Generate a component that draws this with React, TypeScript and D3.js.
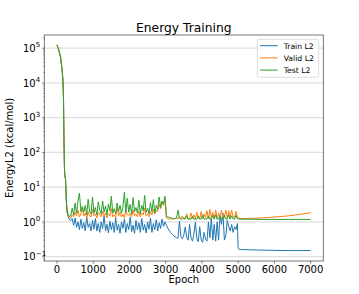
import * as d3 from 'd3';

// sampled epochs: start of the run, two noisy phases, quiet tail
const initEpochs = [0, 50, 100, 140, 165, 180, 192, 205, 215, 235, 245, 260, 278, 310, 345];
const phaseAEpochs = d3.range(380, 3000, 40); // 66 samples
const phaseBEpochs = d3.range(3020, 5000, 40); // 50 samples
const tailEpochs = [5000, 5020, 5100, 5300, 5600, 6000, 6400, 6800, 7000];

const trainInit = [123000, 88000, 53000, 24000, 11500, 3400, 290, 38, 21, 17, 9.5, 3.6, 1.9, 1.4, 1.15];
const validInit = [124000, 89000, 54000, 24500, 11800, 3450, 295, 39, 21.5, 17.5, 9.8, 3.8, 2.0, 1.5, 1.35];
const testInit = [125000, 90000, 55000, 25000, 12000, 3500, 300, 40, 22, 18, 10, 4.0, 2.2, 1.6, 1.45];

const trainA = [
  1.1, 1.25, 0.8, 1.3, 0.7, 1.0, 0.6, 1.2, 0.65, 0.95,
  0.55, 1.4, 0.7, 0.9, 0.55, 1.1, 0.62, 1.25, 0.55, 0.9,
  0.5, 1.0, 0.65, 1.5, 0.55, 0.85, 0.48, 1.05, 0.6, 0.95,
  0.5, 1.3, 0.58, 0.85, 0.47, 1.0, 0.65, 1.2, 0.5, 0.9,
  0.6, 1.4, 0.52, 0.8, 0.47, 1.1, 0.6, 0.95, 0.5, 1.25,
  0.58, 0.85, 0.48, 1.0, 0.62, 1.3, 0.5, 0.9, 0.6, 1.15,
  0.55, 0.95, 0.65, 1.2, 0.75, 1.0,
];
const validA = [
  1.3, 1.6, 1.4, 1.9, 1.5, 2.2, 1.4, 1.7, 2.5, 1.5,
  1.8, 1.3, 2.0, 1.5, 1.4, 2.3, 1.5, 1.7, 1.3, 1.9,
  1.6, 1.4, 2.0, 1.5, 1.8, 1.3, 1.7, 1.5, 2.4, 1.4,
  1.6, 1.3, 2.6, 1.5, 1.9, 1.4, 1.7, 1.3, 2.1, 1.6,
  1.5, 1.8, 1.4, 2.2, 1.5, 1.7, 1.4, 2.0, 1.4, 1.8,
  1.6, 2.5, 1.5, 1.7, 1.4, 2.0, 1.6, 2.3, 1.7, 2.2,
  2.0, 3.2, 2.4, 3.8, 3.0, 4.8,
];
const testA = [
  1.5, 2.5, 1.6, 3.5, 1.8, 4.0, 6.8, 2.0, 2.8, 1.9,
  3.0, 1.6, 4.5, 2.0, 1.7, 5.2, 1.8, 2.6, 1.6, 3.8,
  2.2, 1.7, 4.0, 1.9, 2.9, 1.6, 3.3, 2.1, 5.5, 1.8,
  2.4, 1.7, 3.5, 2.0, 3.0, 1.8, 2.7, 7.2, 1.9, 4.8,
  1.9, 3.2, 1.7, 5.0, 2.0, 2.6, 1.8, 4.2, 1.7, 3.0,
  2.1, 5.8, 1.9, 2.5, 1.7, 3.6, 2.0, 4.4, 1.8, 3.0,
  2.3, 5.2, 2.6, 4.0, 3.2, 5.5,
];

const trainB = [
  0.8, 0.66, 0.56, 0.49, 0.44, 0.4, 0.37, 0.35, 0.34, 1.05,
  0.38, 0.33, 0.42, 0.72, 0.36, 0.3, 0.85, 0.34, 0.28, 0.45,
  1.0, 0.33, 0.27, 0.73, 0.3, 0.26, 0.5, 0.32, 0.28, 1.0,
  0.35, 1.3, 0.3, 0.85, 0.28, 1.0, 0.3, 1.6, 0.85, 1.8,
  0.3, 0.4, 1.1, 0.73, 0.55, 0.85, 0.5, 0.73, 0.6, 0.9,
];
const validB = [
  1.3, 1.25, 1.22, 1.25, 1.2, 1.22, 1.25, 1.3, 1.22, 1.4,
  1.25, 1.5, 1.22, 1.3, 1.7, 1.22, 1.25, 1.8, 1.25, 1.6,
  1.25, 1.9, 1.3, 1.25, 2.0, 1.25, 1.7, 1.3, 2.1, 1.25,
  2.3, 1.3, 1.9, 1.25, 2.2, 1.3, 1.8, 1.25, 2.2, 1.3,
  1.35, 2.2, 1.3, 2.1, 1.35, 2.2, 1.4, 1.35, 2.0, 1.4,
];
const testB = [
  1.45, 1.4, 1.35, 1.3, 1.28, 1.25, 1.25, 1.3, 2.2, 1.3,
  1.2, 1.22, 1.3, 1.2, 1.5, 1.2, 1.22, 1.2, 1.45, 1.2,
  1.22, 1.2, 1.5, 1.2, 1.22, 1.55, 1.2, 1.2, 1.22, 1.5,
  1.2, 1.22, 1.55, 1.2, 1.6, 1.2, 1.22, 1.5, 1.2, 1.22,
  1.55, 1.2, 1.22, 1.6, 1.2, 1.5, 1.22, 1.2, 1.55, 1.22,
];

const trainTail = [0.17, 0.165, 0.16, 0.158, 0.155, 0.152, 0.15, 0.15, 0.15];
const validTail = [1.4, 1.27, 1.25, 1.26, 1.3, 1.38, 1.5, 1.7, 1.85];
const testTail = [1.25, 1.2, 1.2, 1.2, 1.19, 1.18, 1.18, 1.18, 1.18];

const xTicks = [0, 1000, 2000, 3000, 4000, 5000, 6000, 7000];
const yExponents = [-1, 0, 1, 2, 3, 4, 5];

const epochs = [...initEpochs, ...phaseAEpochs, ...phaseBEpochs, ...tailEpochs];
const series = [
  { name: 'Train L2', color: '#1f77b4', values: [...trainInit, ...trainA, ...trainB, ...trainTail] },
  { name: 'Valid L2', color: '#ff7f0e', values: [...validInit, ...validA, ...validB, ...validTail] },
  { name: 'Test L2', color: '#2ca02c', values: [...testInit, ...testA, ...testB, ...testTail] },
];

const W = 359, H = 294;
const left = 44.3, right = 323.3, top = 35, bottom = 261;
const font = 'DejaVu Sans, sans-serif';

export default function App() {
  const x = d3.scaleLinear().domain([-350, 7350]).range([left, right]);
  const y = d3.scaleLog().domain([10 ** -1.124, 10 ** 5.38]).range([bottom, top]);

  const line = d3.line<number>()
    .x((_, i) => x(epochs[i]))
    .y(d => y(d));

  // minor ticks 2..9 x 10^k inside the domain
  const minor: number[] = [];
  for (let k = -2; k <= 5; k++) {
    for (let m = 2; m <= 9; m++) {
      const v = m * 10 ** k;
      if (v > y.domain()[0] && v < y.domain()[1]) minor.push(v);
    }
  }

  return (
    <svg width={W} height={H} style={{ position: 'absolute', left: 0, top: 0, background: '#fff' }} fontFamily={font}>
      <defs>
        <clipPath id="plot"><rect x={left} y={top} width={right - left} height={bottom - top} /></clipPath>
      </defs>

      {/* grid */}
      {yExponents.map(e => (
        <line key={'g' + e} x1={left} x2={right} y1={y(10 ** e)} y2={y(10 ** e)} stroke="#e0e0e0" strokeWidth={1.2} />
      ))}

      {/* lines */}
      <g clipPath="url(#plot)">
        {series.map(s => (
          <path key={s.name} d={line(s.values) || ''} fill="none" stroke={s.color} strokeWidth={1} strokeLinejoin="round" />
        ))}
      </g>

      {/* frame */}
      <rect x={left} y={top} width={right - left} height={bottom - top} fill="none" stroke="#555" strokeWidth={0.8} />

      {/* x axis */}
      {xTicks.map(t => (
        <g key={'x' + t}>
          <line x1={x(t)} x2={x(t)} y1={bottom} y2={bottom + 2.5} stroke="#555" strokeWidth={0.8} />
          <text x={x(t)} y={272.5} fontSize={10} textAnchor="middle" fill="#000">{t}</text>
        </g>
      ))}
      <text x={(left + right) / 2} y={282.5} fontSize={10} textAnchor="middle">Epoch</text>

      {/* y axis */}
      {minor.map(v => (
        <line key={'m' + v} x1={left - 1.2} x2={left} y1={y(v)} y2={y(v)} stroke="#555" strokeWidth={0.6} />
      ))}
      {yExponents.map(e => (
        <g key={'y' + e}>
          <line x1={left - 2} x2={left} y1={y(10 ** e)} y2={y(10 ** e)} stroke="#555" strokeWidth={0.8} />
          <text x={35.7} y={y(10 ** e) + 3.8} fontSize={10} textAnchor="end">10</text>
          <text x={35.8} y={y(10 ** e) - 0.8} fontSize={7}>{e < 0 ? '\u2212' + Math.abs(e) : e}</text>
        </g>
      ))}
      <text transform={`translate(12.5, ${(top + bottom) / 2}) rotate(-90)`} fontSize={10} textAnchor="middle">
        EnergyL2 (kcal/mol)
      </text>

      {/* title */}
      <text x={(left + right) / 2} y={31.5} fontSize={12.3} textAnchor="middle">Energy Training</text>

      {/* legend */}
      <rect x={257.3} y={39.3} width={61.4} height={38} rx={2} fill="#fff" fillOpacity={0.8} stroke="#d5d5d5" strokeWidth={0.8} />
      {series.map((s, i) => (
        <g key={'l' + s.name} transform={`translate(260, ${45.7 + i * 12.2})`}>
          <line x1={0} x2={17.7} y1={0} y2={0} stroke={s.color} strokeWidth={1} />
          <text x={23.7} y={2.8} fontSize={7.7}>{s.name}</text>
        </g>
      ))}
    </svg>
  );
}
